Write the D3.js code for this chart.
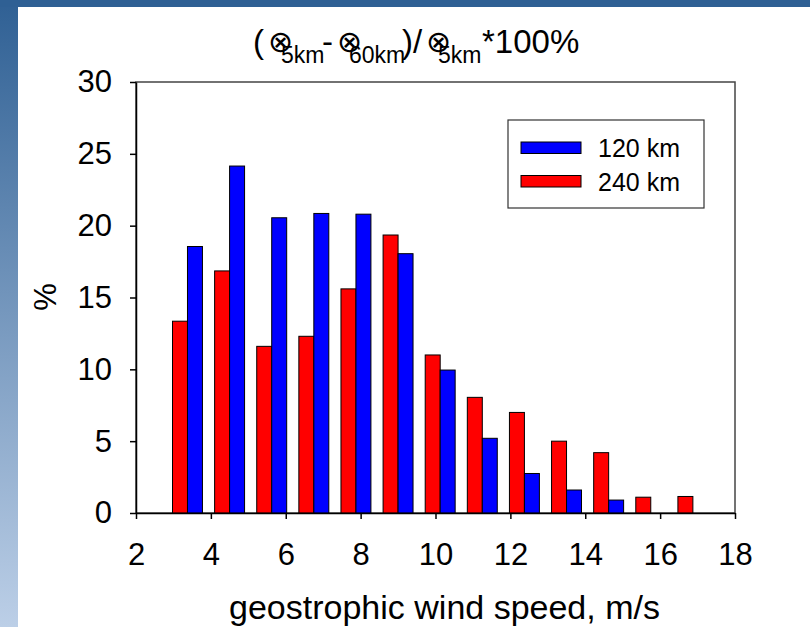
<!DOCTYPE html>
<html>
<head>
<meta charset="utf-8">
<script src="https://cdn.jsdelivr.net/npm/d3@7"></script>
<style>
  body { margin: 0; background: #fff; }
  svg { display: block; font-family: "Liberation Sans", Arial, sans-serif; }
</style>
</head>
<body>
<svg id="chart"></svg>
<script>
// Chart data
const speeds = [3.375, 4.5, 5.625, 6.75, 7.875, 9, 10.125, 11.25, 12.375, 13.5, 14.625, 15.75, 16.875];
const km240 = [13.35, 16.85, 11.6, 12.3, 15.6, 19.35, 11.0, 8.05, 7.0, 5.0, 4.2, 1.1, 1.15];
const km120 = [18.55, 24.15, 20.55, 20.85, 20.8, 18.05, 9.95, 5.2, 2.75, 1.6, 0.9, 0, 0];
const xTicks = [2, 4, 6, 8, 10, 12, 14, 16, 18];
const yTicks = [0, 5, 10, 15, 20, 25, 30];
const seriesNames = ["120 km", "240 km"];

const width = 810;
const height = 627;
const margin = { top: 82, right: 75, bottom: 114, left: 136 };
const barW = 0.4; // in m/s units

const svg = d3.select("#chart").attr("width", width).attr("height", height);

// background decoration (slide frame)
const defs = svg.append("defs");
const grad = defs.append("linearGradient")
  .attr("id", "side").attr("x1", 0).attr("y1", 0).attr("x2", 0).attr("y2", 1);
grad.append("stop").attr("offset", "0%").attr("stop-color", "#2f6094");
grad.append("stop").attr("offset", "100%").attr("stop-color", "#bccfe7");

svg.append("rect").attr("width", width).attr("height", height).attr("fill", "#fff");
svg.append("rect").attr("x", 0).attr("y", 0).attr("width", 18).attr("height", height).attr("fill", "url(#side)");
svg.append("rect").attr("x", 0).attr("y", 0).attr("width", width).attr("height", 7).attr("fill", "#2f6094");

// scales
const x = d3.scaleLinear().domain([2, 18]).range([margin.left, width - margin.right]);
const y = d3.scaleLinear().domain([0, 30]).range([height - margin.bottom, margin.top]);

// frame
svg.append("rect")
  .attr("x", x(2)).attr("y", y(30))
  .attr("width", x(18) - x(2)).attr("height", y(0) - y(30))
  .attr("fill", "none").attr("stroke", "#444").attr("stroke-width", 1.5);

// bars
const rows = speeds.map((s, i) => ({ s, red: km240[i], blue: km120[i] }));

svg.append("g").selectAll("rect")
  .data(rows.filter(d => d.red > 0))
  .join("rect")
  .attr("x", d => x(d.s - barW))
  .attr("y", d => y(d.red))
  .attr("width", d => x(d.s) - x(d.s - barW))
  .attr("height", d => y(0) - y(d.red))
  .attr("fill", "#ff0000")
  .attr("stroke", "#000").attr("stroke-width", 1);

svg.append("g").selectAll("rect")
  .data(rows.filter(d => d.blue > 0))
  .join("rect")
  .attr("x", d => x(d.s))
  .attr("y", d => y(d.blue))
  .attr("width", d => x(d.s + barW) - x(d.s))
  .attr("height", d => y(0) - y(d.blue))
  .attr("fill", "#0000ff")
  .attr("stroke", "#000").attr("stroke-width", 1);

// axes
const xAxis = svg.append("g")
  .attr("transform", `translate(0, ${y(0)})`)
  .call(d3.axisBottom(x).tickValues(xTicks).tickSize(6).tickSizeOuter(0).tickPadding(24));

const yAxis = svg.append("g")
  .attr("transform", `translate(${x(2)}, 0)`)
  .call(d3.axisLeft(y).tickValues(yTicks).tickSize(6).tickSizeOuter(0).tickPadding(18));

[xAxis, yAxis].forEach(a => {
  a.select(".domain").attr("stroke", "#000").attr("stroke-width", 1.5);
  a.selectAll(".tick line").attr("stroke", "#000").attr("stroke-width", 1.5);
  a.selectAll(".tick text").attr("fill", "#000").style("font-size", "31px")
    .style("font-family", "'Liberation Sans', Arial, sans-serif");
});

// axis titles
svg.append("text")
  .attr("x", (x(2) + x(18)) / 2 + 9)
  .attr("y", 619)
  .attr("text-anchor", "middle")
  .style("font-size", "34px")
  .text("geostrophic wind speed, m/s");

svg.append("text")
  .attr("transform", "translate(56, 297) rotate(-90)")
  .attr("text-anchor", "middle")
  .style("font-size", "31px")
  .text("%");

// title
const titleParts = [
  { t: "(", x: 253, y: 53, size: 33 },
  { t: "⊗", x: 268, y: 52, size: 30 },
  { t: "5km", x: 281, y: 63, size: 23 },
  { t: "-", x: 322, y: 53, size: 33 },
  { t: "⊗", x: 337, y: 52, size: 30 },
  { t: "60km", x: 349, y: 63, size: 23 },
  { t: ")/", x: 402, y: 53, size: 33 },
  { t: "⊗", x: 426, y: 52, size: 30 },
  { t: "5km", x: 438, y: 63, size: 23 },
  { t: "*100%", x: 482, y: 53, size: 33 }
];
const title = svg.append("text");
title.selectAll("tspan")
  .data(titleParts)
  .join("tspan")
  .attr("x", d => d.x)
  .attr("y", d => d.y)
  .style("font-size", d => d.size + "px")
  .style("font-family", d => d.t === "⊗" ? "'DejaVu Sans', sans-serif" : null)
  .text(d => d.t);

// legend
const legend = svg.append("g").attr("transform", "translate(508, 120)");
legend.append("rect")
  .attr("width", 196).attr("height", 88)
  .attr("fill", "#fff").attr("stroke", "#333").attr("stroke-width", 1.2);
const legendColors = ["#0000ff", "#ff0000"];
seriesNames.forEach((name, i) => {
  legend.append("rect")
    .attr("x", 13).attr("y", 22 + i * 33.5)
    .attr("width", 60).attr("height", 11.5)
    .attr("fill", legendColors[i]).attr("stroke", "#000").attr("stroke-width", 1);
  legend.append("text")
    .attr("x", 90).attr("y", 37 + i * 34)
    .style("font-size", "25px")
    .text(name);
});
</script>
</body>
</html>
